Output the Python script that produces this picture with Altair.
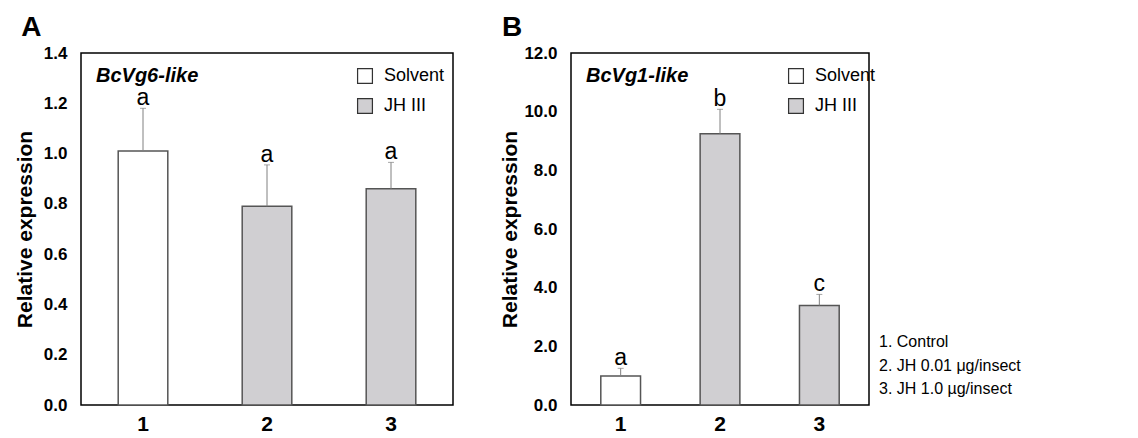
import altair as alt
import pandas as pd

FONT = "Liberation Sans"

groups = ["1", "2", "3"]
treatment = ["Solvent", "JH III", "JH III"]

a_mean = [1.01, 0.79, 0.86]
a_top = [1.18, 0.955, 0.965]
a_letters = ["a", "a", "a"]
a_ticks = [0.0, 0.2, 0.4, 0.6, 0.8, 1.0, 1.2, 1.4]

b_mean = [0.99, 9.25, 3.39]
b_top = [1.25, 10.08, 3.77]
b_letters = ["a", "b", "c"]
b_ticks = [0.0, 2.0, 4.0, 6.0, 8.0, 10.0, 12.0]

notes = ["1. Control", "2. JH 0.01 \u03bcg/insect", "3. JH 1.0 \u00b5g/insect"]

PLOT_H = 352


def panel(mean, top, letters, gene, ticks, width, label, legend_x, title_dx,
          title_pad, with_notes):
    df = pd.DataFrame({"group": groups, "treatment": treatment,
                       "mean": mean, "top": top, "letter": letters})
    base = alt.Chart(df)
    x = alt.X("group:N",
              scale=alt.Scale(paddingInner=0.6, paddingOuter=0.3),
              axis=alt.Axis(title=None, labelAngle=0, labelFontSize=21,
                            labelFontWeight="bold", labelFont=FONT,
                            labelColor="black", ticks=False, domain=False,
                            labelPadding=8))
    y = alt.Y("mean:Q",
              scale=alt.Scale(domain=[ticks[0], ticks[-1]], nice=False),
              axis=alt.Axis(title="Relative expression", values=ticks,
                            format=".1f", grid=False, ticks=False,
                            domain=False, labelFontSize=17,
                            labelFontWeight="bold", labelFont=FONT,
                            labelColor="black", labelPadding=14,
                            titleFontSize=21, titleFont=FONT,
                            titleFontWeight="bold", titleColor="black",
                            titlePadding=title_pad))
    bars = base.mark_bar(stroke="#555555", strokeWidth=1.5).encode(
        x=x, y=y,
        color=alt.Color("treatment:N",
                        scale=alt.Scale(domain=["Solvent", "JH III"],
                                        range=["#ffffff", "#d0cfd2"]),
                        legend=alt.Legend(title=None, orient="none",
                                          legendX=legend_x, legendY=14,
                                          symbolType="square", symbolSize=220,
                                          symbolStrokeColor="#333333",
                                          symbolStrokeWidth=1.2,
                                          labelFontSize=18, labelFont=FONT,
                                          labelColor="black", rowPadding=10,
                                          labelOffset=10)))
    rule = base.mark_rule(color="#808080", strokeWidth=1).encode(
        x="group:N", y="mean:Q", y2="top:Q")
    cap = base.mark_tick(color="#808080", thickness=1, size=6).encode(
        x="group:N", y="top:Q")
    lett = base.mark_text(baseline="alphabetic", dy=-3, fontSize=23,
                          font=FONT, color="black").encode(
        x="group:N", y="top:Q", text="letter:N")
    gene_t = alt.Chart(pd.DataFrame({"g": [gene]})).mark_text(
        align="left", baseline="middle", fontStyle="italic",
        fontWeight="bold", fontSize=20, font=FONT, color="black").encode(
        x=alt.value(15), y=alt.value(23), text="g:N")
    layers = [bars, rule, cap, lett, gene_t]
    if with_notes:
        nt = alt.Chart(pd.DataFrame({"n": [0]})).mark_text(
            align="left", baseline="top", fontSize=16, font=FONT,
            color="black", lineHeight=23.5).encode(
            x=alt.value(width + 10), y=alt.value(281), text=alt.value(notes))
        layers.append(nt)
    return alt.layer(*layers).properties(
        width=width, height=PLOT_H,
        view=alt.ViewBackground(stroke="black", strokeWidth=1.5),
        title=alt.TitleParams(label, anchor="start", frame="bounds",
                              fontSize=28, fontWeight="bold", font=FONT,
                              color="black", dx=title_dx, offset=2))


pa = panel(a_mean, a_top, a_letters, "BcVg6-like", a_ticks, 372, "A", 275, 7, 8, False)
pb = panel(b_mean, b_top, b_letters, "BcVg1-like", b_ticks, 298, "B", 216, 2, 3, True)

chart = alt.hconcat(pa, pb, spacing=45).resolve_scale(
    color="independent", y="independent", x="independent"
).resolve_legend(color="independent").configure_view(
    stroke="black", strokeWidth=1.5
).configure(background="white")

chart.save("out.html", embed_options={"renderer": "svg", "actions": False})
